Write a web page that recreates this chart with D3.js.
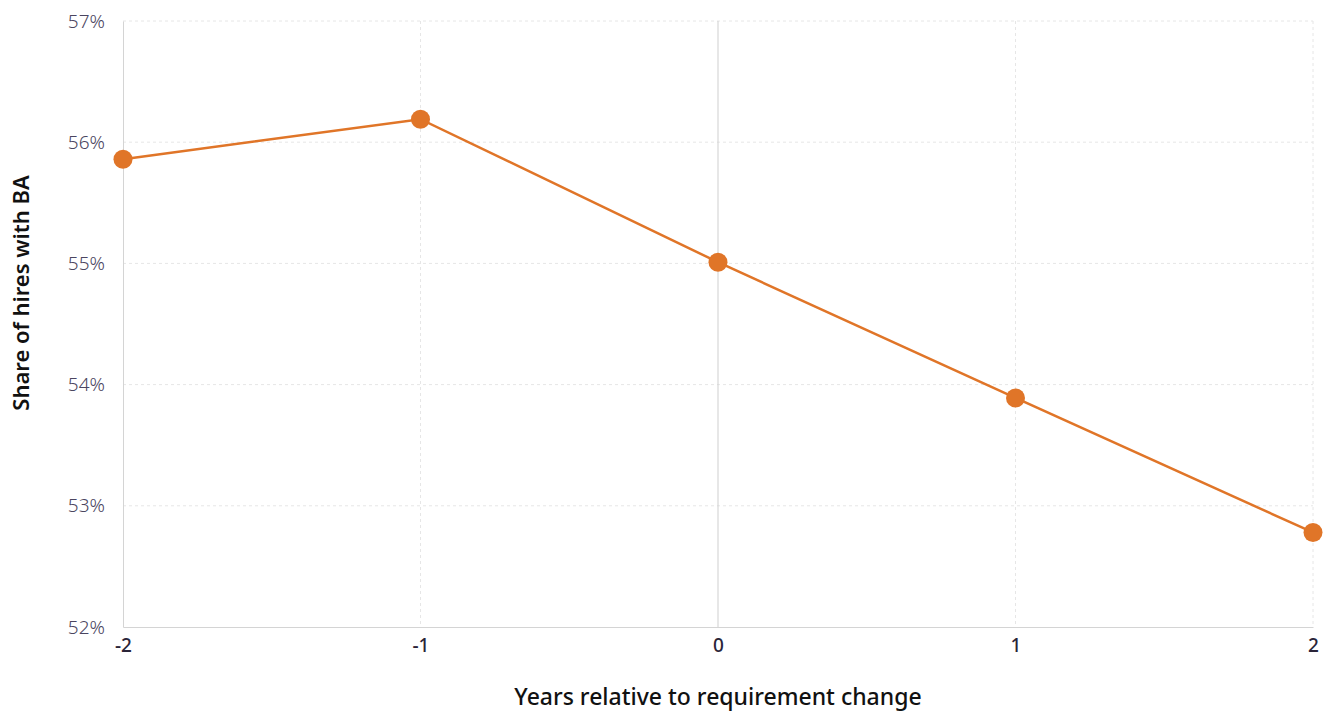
<!DOCTYPE html>
<html><head><meta charset="utf-8">
<script src="https://cdn.jsdelivr.net/npm/d3@7"></script>
<style>body{margin:0;background:#fff;} svg{display:block;font-family:"Noto Sans","Open Sans",sans-serif;}</style>
</head><body><svg id="c" width="1325" height="713"></svg>
<script>
const years = [-2, -1, 0, 1, 2];
const shareBA = [55.86, 56.19, 55.01, 53.89, 52.78];
const yTicks = [52, 53, 54, 55, 56, 57];
const xTicks = [-2, -1, 0, 1, 2];

const svg = d3.select("#c");
const m = {l:123, r:1313, t:21, b:627};
const x = d3.scaleLinear().domain([-2,2]).range([m.l, m.r]);
const y = d3.scaleLinear().domain([52,57]).range([m.b, m.t]);

// grid
svg.append("g").selectAll("line").data(yTicks.slice(1)).join("line")
  .attr("x1", m.l).attr("x2", m.r).attr("y1", d=>y(d)).attr("y2", d=>y(d))
  .attr("stroke", "#e6e6e6").attr("stroke-dasharray", "3,3");
svg.append("g").selectAll("line").data(xTicks.filter(d=>d!==-2 && d!==0)).join("line")
  .attr("y1", m.t).attr("y2", m.b).attr("x1", d=>x(d)).attr("x2", d=>x(d))
  .attr("stroke", "#e6e6e6").attr("stroke-dasharray", "3,3");
// zero line
svg.append("line").attr("x1", x(0)).attr("x2", x(0)).attr("y1", m.t).attr("y2", m.b)
  .attr("stroke", "#cfcfcf").attr("stroke-width", 1);

// axes
const yAxis = d3.axisLeft(y).tickValues(yTicks).tickFormat(d=>d+"%").tickSize(0).tickPadding(18);
const gy = svg.append("g").attr("transform", `translate(${m.l},0)`).call(yAxis).attr("font-family", null);
gy.select(".domain").attr("stroke", "#d4d4d4");
gy.selectAll("text").attr("font-size", 19).attr("font-weight", 300).attr("fill", "#4a4560");

const xAxis = d3.axisBottom(x).tickValues(xTicks).tickFormat(d=>String(d)).tickSize(0).tickPadding(12);
const gx = svg.append("g").attr("transform", `translate(0,${m.b})`).call(xAxis).attr("font-family", null);
gx.select(".domain").attr("stroke", "#d4d4d4");
gx.selectAll("text").attr("font-size", 19).attr("font-weight", 500).attr("fill", "#2a2438");

// titles
svg.append("text").attr("x", (m.l+m.r)/2).attr("y", 705).attr("text-anchor","middle")
  .attr("font-size", 23).attr("font-weight", 500).attr("fill", "#111").text("Years relative to requirement change");
svg.append("text").attr("transform", `translate(29,293) rotate(-90)`).attr("text-anchor","middle")
  .attr("font-size", 22).attr("font-weight", 600).attr("fill", "#111").text("Share of hires with BA");

// line
const pts = years.map((d,i)=>({x:d, y:shareBA[i]}));
svg.append("path").datum(pts)
  .attr("d", d3.line().x(d=>x(d.x)).y(d=>y(d.y)))
  .attr("fill","none").attr("stroke","#e07528").attr("stroke-width",2.5);
svg.append("g").selectAll("circle").data(pts).join("circle")
  .attr("cx", d=>x(d.x)).attr("cy", d=>y(d.y)).attr("r", 9.5).attr("fill","#e07528");
</script></body></html>
